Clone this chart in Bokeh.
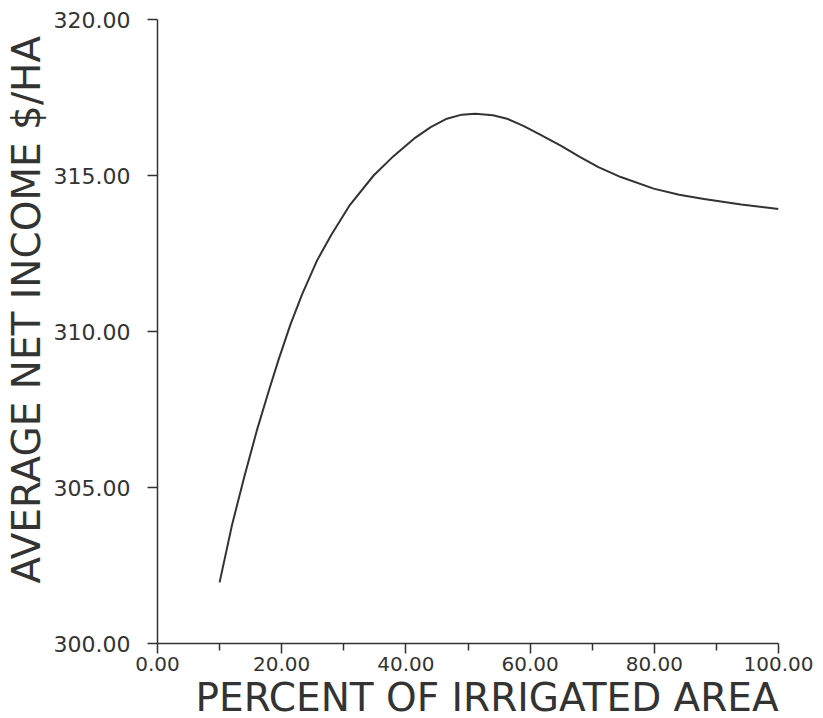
from bokeh.plotting import figure
from bokeh.models import FixedTicker, Range1d, NumeralTickFormatter, Title
from bokeh.embed import file_html
from bokeh.resources import INLINE

# Data
pct_irrigated = [10, 12, 14, 16, 18, 19.5, 21.4, 23.3, 25.7, 28, 31, 34.8, 38, 41.3,
                 44, 46.6, 49, 51.2, 54, 56.3, 59, 61.7, 65, 68, 71, 74.6, 79.9, 84,
                 88, 94, 100]
net_income = [301.96, 303.8, 305.36, 306.83, 308.15, 309.1, 310.22, 311.2, 312.28,
              313.1, 314.06, 315.0, 315.62, 316.18, 316.55, 316.82, 316.95, 316.98,
              316.93, 316.82, 316.58, 316.3, 315.95, 315.6, 315.27, 314.95, 314.58,
              314.38, 314.25, 314.07, 313.93]

x_ticks = [0, 20, 40, 60, 80, 100]
x_minor = [10, 30, 50, 70, 90]
y_ticks = [300, 305, 310, 315, 320]

x_title = "PERCENT OF IRRIGATED AREA"
y_title = "AVERAGE NET INCOME $/HA"

INK = "#333333"
FONT = "DejaVu Sans"

p = figure(output_backend="svg", toolbar_location=None,
           frame_width=621, frame_height=624,
           min_border_left=157, min_border_top=19,
           min_border_right=44, min_border_bottom=74,
           x_range=Range1d(0, 100), y_range=Range1d(300, 320))
p.outline_line_color = None
p.xgrid.visible = False
p.ygrid.visible = False
p.background_fill_color = "white"
p.border_fill_color = "white"

p.line(pct_irrigated, net_income, line_color=INK, line_width=2, line_join="round")

xa = p.xaxis[0]
xa.ticker = FixedTicker(ticks=x_ticks, minor_ticks=x_minor)
xa.formatter = NumeralTickFormatter(format="0.00")
xa.axis_line_color = INK
xa.axis_line_width = 1.5
xa.major_tick_line_color = INK
xa.major_tick_line_width = 1.5
xa.minor_tick_line_color = INK
xa.minor_tick_line_width = 1.5
xa.major_tick_in = 0
xa.major_tick_out = 10
xa.minor_tick_in = 0
xa.minor_tick_out = 7
xa.major_label_standoff = 3
xa.major_label_text_font = FONT
xa.major_label_text_font_size = "20px"
xa.major_label_text_color = INK

ya = p.yaxis[0]
ya.ticker = FixedTicker(ticks=y_ticks, minor_ticks=[])
ya.formatter = NumeralTickFormatter(format="0.00")
ya.axis_line_color = INK
ya.axis_line_width = 1.5
ya.major_tick_line_color = INK
ya.major_tick_line_width = 1.5
ya.major_tick_in = 0
ya.major_tick_out = 10
ya.minor_tick_line_color = None
ya.major_label_standoff = 17
ya.major_label_text_font = FONT
ya.major_label_text_font_size = "22px"
ya.major_label_text_color = INK

p.add_layout(Title(text=x_title, align="left", offset=38, standoff=-2,
                   text_font=FONT, text_font_size="39px", text_font_style="normal",
                   text_color=INK), "below")
p.add_layout(Title(text=y_title, align="left", offset=60, standoff=3,
                   text_font=FONT, text_font_size="39px", text_font_style="normal",
                   text_color=INK), "left")

open("out.html", "w").write(file_html(p, INLINE))
